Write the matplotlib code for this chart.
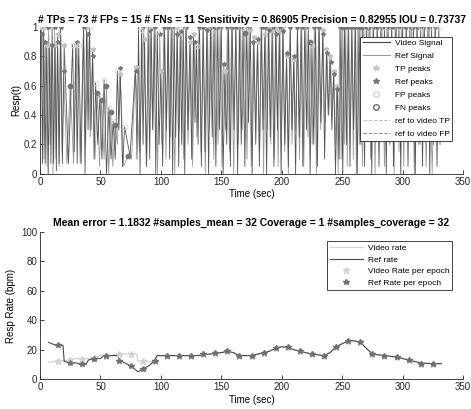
import matplotlib
matplotlib.use("Agg")
import matplotlib.pyplot as plt
from matplotlib.lines import Line2D
import numpy as np

plt.rcParams['font.family'] = ['Liberation Sans', 'DejaVu Sans']

# ---------------- top panel data ----------------
video_peak_t = [1, 3, 5.5, 8, 10, 12.5, 14.5, 17, 20, 27, 29.5, 32, 36, 38.5, 41, 43.5, 46, 49.5,
                53, 57, 60.5, 64, 66.5, 70, 79, 81.5, 84, 86.5, 89.5, 92, 94.5, 97, 100, 103, 106,
                108.5, 111, 113.5, 116, 118.5, 121, 124, 127, 129.5, 132, 135, 138, 141, 144, 147,
                150, 153, 156, 159, 162, 165, 168, 171, 174, 177, 180, 183, 186, 189, 192, 195,
                198, 201, 204, 207, 210, 213, 216, 219, 222, 225, 228, 231, 234, 237, 240, 243,
                246, 249, 252, 255, 258, 261, 264, 267, 270, 273, 276, 279, 282, 285, 288, 291,
                294, 297, 300, 303, 306, 309, 312, 315, 318, 321, 324, 327, 330]
video_peak_v = [1.0, 1.0, 0.88, 0.88, 1.0, 0.88, 0.95, 1.0, 0.88, 0.88, 0.88, 0.88, 1.0, 1.0, 1.0,
                0.85, 0.62, 0.53, 0.64, 0.45, 0.36, 0.7, 0.68, 0.32, 0.73, 1.0, 0.98, 0.92, 1.0,
                1.0, 1.0, 0.97, 0.7, 1.0, 1.0, 1.0, 1.0, 1.0, 0.96, 1.0, 1.0, 0.9, 0.95, 0.87, 1.0,
                1.0, 1.0, 1.0, 1.0, 1.0, 1.0, 0.7, 1.0, 1.0, 1.0, 1.0, 1.0, 1.0, 0.98, 0.93, 0.9,
                1.0, 0.95, 1.0, 0.97, 1.0, 0.97, 1.0, 0.8, 1.0, 0.78, 1.0, 1.0, 1.0, 1.0, 0.88,
                1.0, 1.0, 0.98, 0.85, 0.8, 0.7, 0.6, 1.0, 1.0, 1.0, 1.0, 1.0, 1.0, 1.0, 1.0, 1.0,
                1.0, 1.0, 1.0, 1.0, 1.0, 1.0, 1.0, 1.0, 1.0, 1.0, 1.0, 1.0, 1.0, 1.0, 1.0, 1.0,
                1.0, 1.0, 1.0]
video_trough_v = [0.07, 0.07, 0.0, 0.07, 0.07, 0.02, 0.07, 0.07, 0.07, 0.15, 0.07, 0.07, 0.0, 0.3,
                  0.3, 0.1, 0.2, 0.1, 0.0, 0.1, 0.1, 0.3, 0.05, 0.12, 0.1, 0.0, 0.2, 0.05, 0.1,
                  0.3, 0.0, 0.2, 0.05, 0.3, 0.1, 0.0, 0.25, 0.05, 0.2, 0.0, 0.3, 0.1, 0.35, 0.2,
                  0.05, 0.15, 0.0, 0.25, 0.05, 0.3, 0.0, 0.2, 0.05, 0.3, 0.0, 0.2, 0.05, 0.35,
                  0.0, 0.2, 0.05, 0.3, 0.0, 0.25, 0.05, 0.3, 0.0, 0.2, 0.05, 0.3, 0.0, 0.25, 0.05,
                  0.3, 0.0, 0.2, 0.05, 0.35, 0.1, 0.4, 0.3, 0.0, 0.1, 0.0, 0.2, 0.05, 0.3, 0.0,
                  0.2, 0.05, 0.3, 0.0, 0.25, 0.05, 0.3, 0.0, 0.2, 0.05, 0.3, 0.0, 0.25, 0.05, 0.3,
                  0.0, 0.2, 0.05, 0.3, 0.0, 0.2, 0.05, 0.2]

ref_peak_t = [2, 4.5, 7, 9.5, 12, 14.5, 17, 19.5, 25, 30.5, 36, 39.5, 43.5, 47.5, 51, 55, 58.5,
              62, 66, 72.5, 79, 85.5, 91, 95.5, 99, 102.5, 106, 109.5, 113.5, 117, 120.5, 124.5,
              128, 131.5, 135, 138.5, 142, 145.5, 149, 152, 155, 158.5, 162, 166, 169.5, 173,
              176.5, 180, 183.5, 186.5, 189.5, 192.5, 195.5, 198.5, 201, 204, 207, 210, 213,
              216.5, 220, 223.5, 227, 230.5, 234, 237.5, 240.5, 243, 245.5, 248, 250.5, 253,
              255.5, 258, 260.5, 263, 265.5, 268, 271.5, 275.5, 279, 283, 287, 291, 295, 299,
              303, 307.5, 312, 317, 322, 327]
ref_peak_v = [0.95, 0.9, 1.0, 0.88, 1.0, 0.9, 1.0, 0.7, 0.6, 0.9, 1.0, 0.95, 0.8, 0.55, 0.5,
              0.6, 0.42, 0.33, 0.72, 0.12, 0.7, 1.0, 0.98, 1.0, 0.95, 1.0, 1.0, 1.0, 0.95, 0.97,
              1.0, 0.93, 0.9, 1.0, 1.0, 0.98, 1.0, 1.0, 1.0, 0.75, 1.0, 1.0, 1.0, 1.0, 0.96, 1.0,
              0.9, 0.92, 1.0, 1.0, 0.98, 1.0, 0.95, 1.0, 0.97, 0.82, 1.0, 0.8, 1.0, 1.0, 1.0,
              0.9, 1.0, 1.0, 0.95, 0.82, 0.76, 0.68, 0.58, 1.0, 1.0, 1.0, 1.0, 1.0, 1.0, 1.0,
              1.0, 1.0, 1.0, 1.0, 1.0, 1.0, 1.0, 1.0, 1.0, 1.0, 1.0, 1.0, 1.0, 1.0, 1.0, 1.0]
ref_trough_v = [0.1, 0.05, 0.2, 0.0, 0.1, 0.05, 0.15, 0.07, 0.07, 0.07, 0.2, 0.25, 0.1, 0.05,
                0.1, 0.0, 0.05, 0.2, 0.05, 0.1, 0.15, 0.05, 0.3, 0.0, 0.2, 0.1, 0.25, 0.0, 0.3,
                0.1, 0.2, 0.05, 0.25, 0.15, 0.0, 0.3, 0.1, 0.2, 0.05, 0.3, 0.15, 0.0, 0.2, 0.3,
                0.1, 0.05, 0.35, 0.15, 0.0, 0.3, 0.2, 0.1, 0.05, 0.3, 0.15, 0.0, 0.2, 0.3, 0.1,
                0.05, 0.25, 0.2, 0.0, 0.3, 0.35, 0.4, 0.45, 0.2, 0.0, 0.1, 0.2, 0.05, 0.3, 0.1,
                0.0, 0.2, 0.05, 0.3, 0.1, 0.0, 0.2, 0.05, 0.3, 0.0, 0.15, 0.05, 0.3, 0.0, 0.2,
                0.05, 0.0, 0.2]

title_top = ("# TPs = 73 # FPs = 15 # FNs = 11 Sensitivity = 0.86905 "
             "Precision = 0.82955 IOU = 0.73737")

# ---------------- bottom panel data ----------------
ref_rate_t = [7, 13, 19, 20, 25, 30, 33, 38, 40, 45, 50, 53, 64, 66, 70, 75, 78, 81, 85, 90,
              94, 97, 100, 110, 130, 140, 150, 155, 160, 165, 175, 180, 185, 190, 195, 200, 205,
              210, 215, 220, 225, 235, 240, 245, 250, 255, 260, 265, 270, 275, 285, 295, 305,
              315, 325, 332]
ref_rate_v = [25, 23, 23, 12, 11, 11, 10, 10, 13, 14, 14, 16, 16, 13, 11, 9, 7, 5, 7, 9, 12, 16,
              16, 16, 16, 17, 18, 19, 18, 16, 16, 17, 18, 19, 21, 22, 21.5, 20, 19, 18, 17, 16,
              18, 22, 24, 26, 26, 25, 21, 17, 16, 15, 13, 11, 10.5, 10.5]
video_rate_t = [7, 15, 20, 25, 30, 40, 45, 50, 60, 62, 80, 81, 95, 97, 100, 110, 130, 140, 150,
                155, 160, 165, 175, 180, 185, 190, 195, 200, 205, 210, 215, 220, 225, 235, 240,
                245, 250, 255, 260, 265, 270, 275, 285, 295, 305, 315, 325, 332]
video_rate_v = [11.5, 12, 12.5, 13, 14, 14, 15, 16, 16, 17, 17, 12, 12, 16, 16, 16, 16, 17, 18,
                19, 18, 16, 16, 17, 18, 19, 21, 22, 21.5, 20, 19, 18, 17, 16, 18, 22, 24, 26, 26,
                25, 21, 17, 16, 15, 13, 11, 10.5, 10.5]
epoch_t = [15, 25, 35, 45, 55, 65, 75, 85, 95, 105, 115, 125, 135, 145, 155, 165, 175, 185,
           195, 205, 215, 225, 235, 245, 255, 265, 275, 285, 295, 305, 315, 325]
ref_epoch = [23, 11, 10.5, 14, 16, 12, 9, 7, 12, 16, 16, 16, 17, 18, 19, 16, 16, 18, 21, 22, 19,
             17, 16, 22, 26, 25, 17, 16, 15, 13, 10.5, 10]
video_epoch = [12.5, 13, 13.5, 14.5, 16, 17, 17, 12, 12, 16, 16, 16, 17, 18, 19, 16, 16, 18, 21,
               22, 19, 17, 16, 22, 26, 25, 17, 16, 15, 13, 10.5, 10]
title_bot = "Mean error = 1.1832 #samples_mean = 32 Coverage = 1 #samples_coverage = 32"

# ---------------- colours ----------------
C_VID = '#555555'
C_REF = '#9a9a9a'
C_TP = '#c2c2c2'
C_REFPK = '#767676'
C_FP = '#d2d2d2'
C_FN = '#6a6a6a'
C_AX = '#262626'


def build_signal(pt, pv, tv):
    pt = np.asarray(pt, float)
    xs, ys = [], []
    for i in range(len(pt)):
        xs.append(pt[i]); ys.append(pv[i])
        nxt = pt[i + 1] if i + 1 < len(pt) else pt[i] + 2.0
        xs.append(0.5 * (pt[i] + nxt)); ys.append(tv[i])
    return np.array(xs), np.array(ys)


fig = plt.figure(figsize=(4.71, 4.09), dpi=100)
ax1 = fig.add_axes([0.085, 0.575, 0.898, 0.359])
ax2 = fig.add_axes([0.085, 0.073, 0.898, 0.360])

vx, vy = build_signal(video_peak_t, video_peak_v, video_trough_v)
rx, ry = build_signal(ref_peak_t, ref_peak_v, ref_trough_v)

ax1.plot(vx, vy, color=C_VID, lw=0.6, zorder=3)
ax1.plot(rx, ry, color=C_REF, lw=0.6, zorder=2)

# matching of peaks
vpt = np.array(video_peak_t, float); vpv = np.array(video_peak_v)
rpt = np.array(ref_peak_t, float); rpv = np.array(ref_peak_v)
tp_mask = np.array([np.min(np.abs(rpt - t)) <= 1.2 for t in vpt])
fn_mask = np.array([np.min(np.abs(vpt - t)) > 1.2 for t in rpt])

for t, v in zip(vpt[tp_mask], vpv[tp_mask]):
    j = np.argmin(np.abs(rpt - t))
    ax1.plot([rpt[j], t], [rpv[j], v], ls='--', color=C_TP, lw=0.5, zorder=4)

ax1.plot(vpt[tp_mask], vpv[tp_mask], ls='none', marker='*', ms=3.5, color=C_TP, zorder=5)
ax1.plot(rpt, rpv, ls='none', marker='*', ms=3, color=C_REFPK, zorder=5)
ax1.plot(vpt[~tp_mask], vpv[~tp_mask], ls='none', marker='o', ms=3.5, mfc='none',
         mec=C_FP, mew=0.6, zorder=5)
ax1.plot(rpt[fn_mask], rpv[fn_mask], ls='none', marker='o', ms=3.5, mfc='none',
         mec=C_FN, mew=0.6, zorder=5)

ax1.set_xlim(0, 350)
ax1.set_ylim(0, 1)
ax1.set_yticks([0, 0.2, 0.4, 0.6, 0.8, 1])
ax1.set_yticklabels(['0', '0.2', '0.4', '0.6', '0.8', '1'])
ax1.set_xticks([0, 50, 100, 150, 200, 250, 300, 350])
ax1.set_xlabel('Time (sec)', fontsize=7, labelpad=2)
ax1.set_ylabel('Resp(t)', fontsize=7, labelpad=2)
ax1.set_title(title_top, fontsize=7.4, fontweight='bold', pad=3)

h1 = [Line2D([], [], color='#444444', lw=0.8),
      Line2D([], [], color=C_REF, lw=0.8),
      Line2D([], [], ls='none', marker='*', ms=4, color=C_TP),
      Line2D([], [], ls='none', marker='*', ms=4, color=C_REFPK),
      Line2D([], [], ls='none', marker='o', ms=4, mfc='none', mec=C_FP),
      Line2D([], [], ls='none', marker='o', ms=4, mfc='none', mec=C_FN),
      Line2D([], [], ls='--', color=C_TP, lw=0.7),
      Line2D([], [], ls='--', color='#8f8f8f', lw=0.7)]
l1 = ['Video Signal', 'Ref Signal', 'TP peaks', 'Ref peaks', 'FP peaks', 'FN peaks',
      'ref to video TP', 'ref to video FP']
leg1 = ax1.legend(h1, l1, loc='upper right', bbox_to_anchor=(0.975, 0.935), fontsize=6,
                  frameon=True, fancybox=False, edgecolor='#262626', framealpha=1,
                  handlelength=3.2, handletextpad=0.6, labelspacing=0.62, borderpad=0.35,
                  borderaxespad=0)
leg1.get_frame().set_linewidth(0.6)
leg1.set_zorder(10)

# ---------------- bottom ----------------
ax2.plot(video_rate_t, video_rate_v, color=C_FP, lw=0.9, zorder=2)
ax2.plot(ref_rate_t, ref_rate_v, color='#4a4a4a', lw=0.8, zorder=3)
ax2.plot(epoch_t, video_epoch, ls='none', marker='*', ms=4.5, color=C_FP, zorder=4)
ax2.plot(epoch_t, ref_epoch, ls='none', marker='*', ms=4, color='#707070', zorder=5)
ax2.set_xlim(0, 350)
ax2.set_ylim(0, 100)
ax2.set_xticks([0, 50, 100, 150, 200, 250, 300, 350])
ax2.set_yticks([0, 20, 40, 60, 80, 100])
ax2.set_xlabel('Time (sec)', fontsize=7, labelpad=2)
ax2.set_ylabel('Resp Rate (bpm)', fontsize=7, labelpad=4)
ax2.set_title(title_bot, fontsize=7.5, fontweight='bold', pad=4)

h2 = [Line2D([], [], color=C_FP, lw=0.9),
      Line2D([], [], color='#4a4a4a', lw=0.8),
      Line2D([], [], ls='none', marker='*', ms=4.5, color=C_FP),
      Line2D([], [], ls='none', marker='*', ms=4, color='#707070')]
l2 = ['Video rate', 'Ref rate', 'Video Rate per epoch', 'Ref Rate per epoch']
leg2 = ax2.legend(h2, l2, loc='upper right', bbox_to_anchor=(0.975, 0.935), fontsize=6,
                  frameon=True, fancybox=False, edgecolor='#262626', framealpha=1,
                  handlelength=4.0, handletextpad=0.6, labelspacing=0.45, borderpad=0.35,
                  borderaxespad=0)
leg2.get_frame().set_linewidth(0.6)

for ax in (ax1, ax2):
    for s in ('top', 'right'):
        ax.spines[s].set_visible(False)
    for s in ('left', 'bottom'):
        ax.spines[s].set_color(C_AX)
        ax.spines[s].set_linewidth(0.6)
    ax.tick_params(direction='in', length=3, width=0.6, labelsize=7, colors=C_AX, pad=2)

fig.savefig('out.png', dpi=100)
